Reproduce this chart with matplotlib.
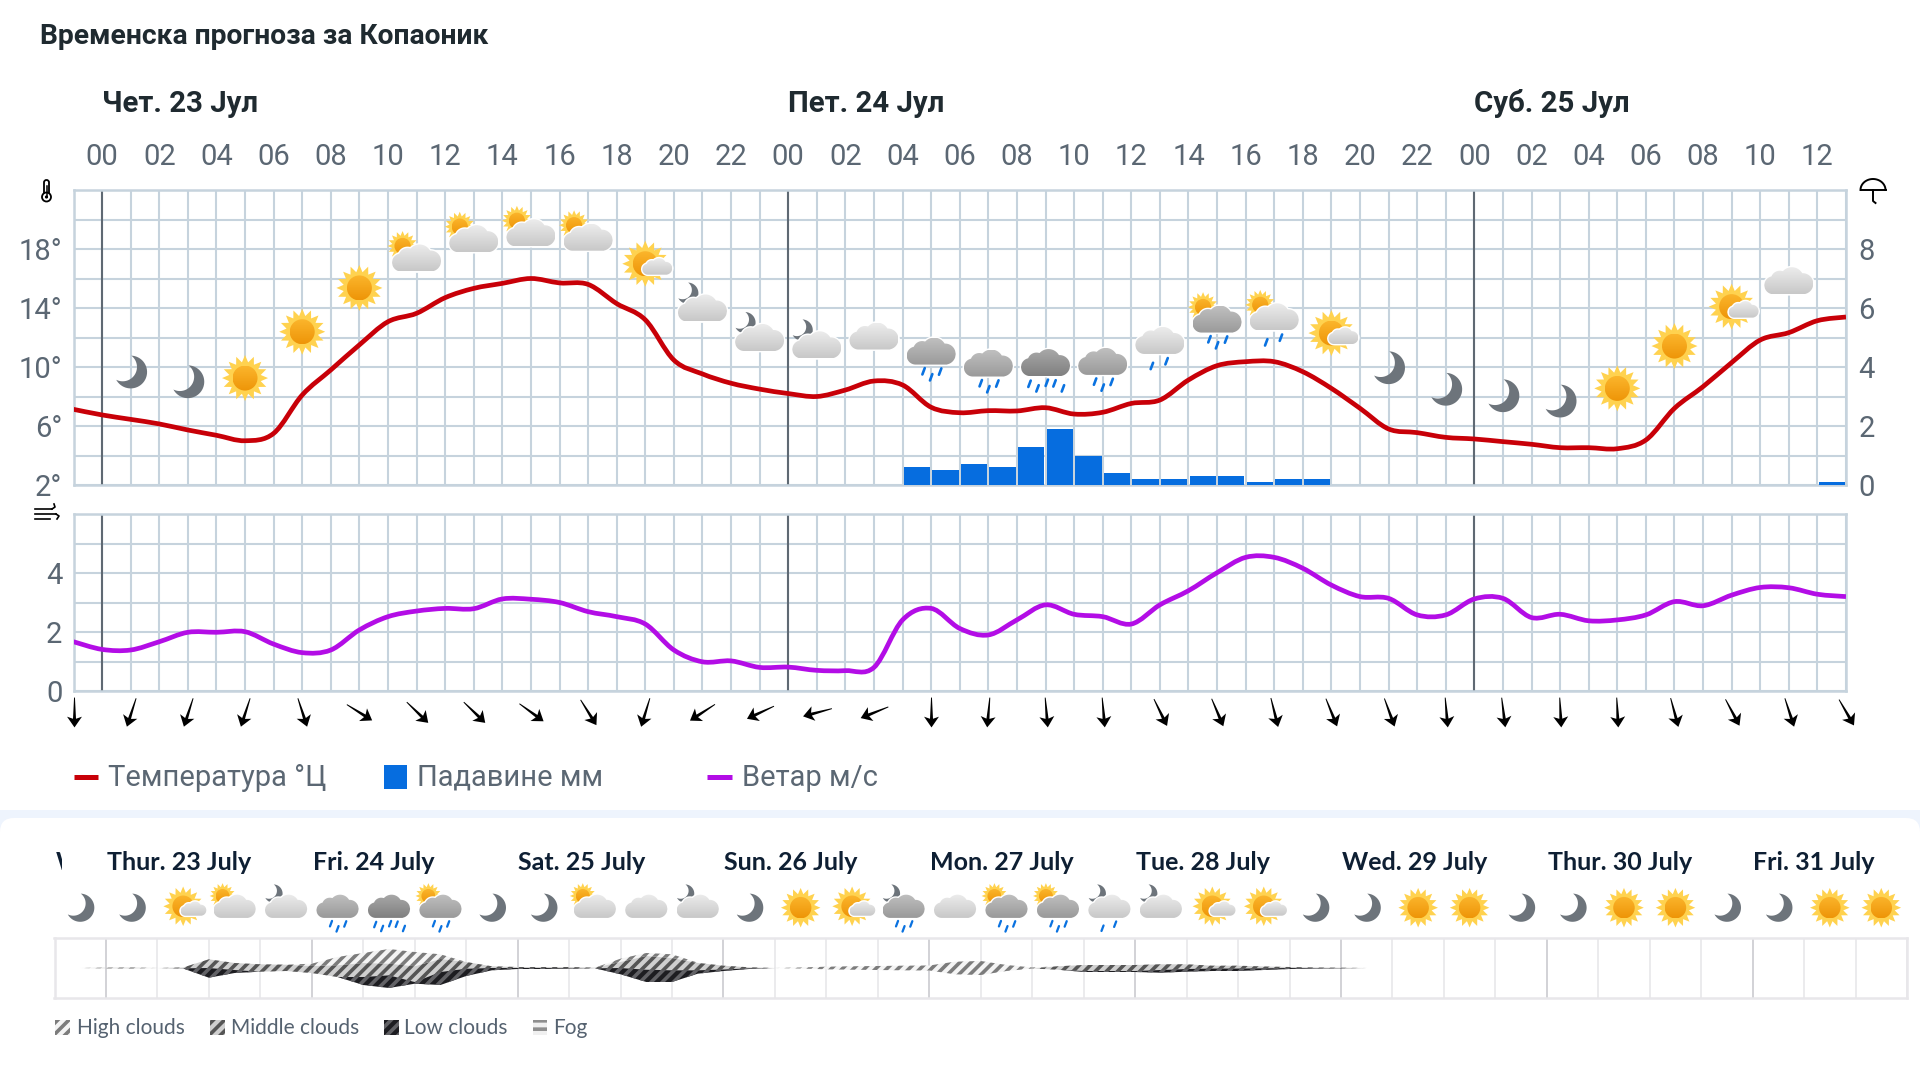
import numpy as np
import matplotlib
matplotlib.use('Agg')
import matplotlib.pyplot as plt
from matplotlib.markers import MarkerStyle
from matplotlib.patches import Circle, FancyBboxPatch, PathPatch, Polygon, Rectangle
from matplotlib.path import Path
from matplotlib.transforms import Affine2D, Bbox

# Hours counted from Thursday 00:00, one value per hour from -1 to 61
temperature = [7.13, 6.75, 6.45, 6.14, 5.73, 5.37, 5.0, 5.5, 8.1, 9.8, 11.5, 13.07, 13.64,
               14.7, 15.33, 15.67, 16.0, 15.7, 15.6, 14.3, 13.2, 10.47, 9.53, 8.9, 8.5, 8.2,
               8.0, 8.44, 9.05, 8.78, 7.27, 6.9, 7.04, 7.02, 7.24, 6.81, 6.93, 7.53, 7.76,
               9.12, 10.09, 10.36, 10.36, 9.68, 8.55, 7.2, 5.8, 5.55, 5.23, 5.12, 4.94, 4.76,
               4.53, 4.53, 4.46, 5.05, 7.2, 8.67, 10.3, 11.83, 12.33, 13.14, 13.39]
wind_speed = [1.67, 1.41, 1.39, 1.67, 1.99, 1.99, 2.01, 1.59, 1.30, 1.39, 2.07, 2.52, 2.71,
              2.80, 2.79, 3.12, 3.11, 3.0, 2.69, 2.52, 2.27, 1.39, 0.99, 1.02, 0.80, 0.81,
              0.70, 0.69, 0.80, 2.41, 2.80, 2.12, 1.90, 2.41, 2.92, 2.60, 2.52, 2.27, 2.92,
              3.40, 4.01, 4.53, 4.53, 4.16, 3.59, 3.20, 3.14, 2.58, 2.58, 3.12, 3.14, 2.49,
              2.60, 2.38, 2.41, 2.58, 3.03, 2.89, 3.25, 3.51, 3.50, 3.28, 3.20]
hours = list(range(-1, 62))

rain_hours = [28, 29, 30, 31, 32, 33, 34, 35, 36, 37, 38, 39, 40, 41, 42, 60]
rain_mm = [0.6, 0.5, 0.7, 0.6, 1.3, 1.9, 1.0, 0.4, 0.2, 0.2, 0.3, 0.3, 0.1, 0.2, 0.2, 0.1]

# Arrow tilt in degrees, 0 points straight down, one arrow every two hours from -1
wind_tilt = [0, -18, -18, -18, 18, 58, 46, 46, 54, 32, -17, -57, -65, -75, -68, 0,
             -5, 5, 5, 26, 23, 14, 22, 20, 5, 7, 3, 3, 15, 28, 18, 30]

day_labels = ['Чет. 23 Јул', 'Пет. 24 Јул', 'Суб. 25 Јул']
temp_ticks = [2, 6, 10, 14, 18]
rain_ticks = [0, 2, 4, 6, 8]
wind_ticks = [0, 2, 4]

# Weather symbol for every second hour from 1, with its level on the temperature scale
symbol_kinds = ['moon', 'moon', 'sun', 'sun', 'sun', 'sc', 'sc', 'sc', 'sc', 'Sc', 'mc', 'mc',
                'mc', 'cloud', 'rain3', 'rain3', 'rain5', 'rain3', 'lrain2', 'srain3',
                'srain2', 'Sc', 'moon', 'moon', 'moon', 'moon', 'sun', 'sun', 'Sc', 'cloud']
symbol_level = [9.66, 9.0, 9.25, 12.39, 15.36, 17.39, 18.7, 19.1, 18.8, 17.0, 14.0, 12.0,
                11.5, 12.1, 11.08, 10.27, 10.3, 10.38, 11.8, 13.25, 13.4, 12.3, 9.95, 8.49,
                8.05, 7.69, 8.55, 11.42, 14.09, 15.85]

week_labels = ['Thur. 23 July', 'Fri. 24 July', 'Sat. 25 July', 'Sun. 26 July', 'Mon. 27 July',
               'Tue. 28 July', 'Wed. 29 July', 'Thur. 30 July', 'Fri. 31 July']
week_kinds = ['moon', 'moon', 'Sc', 'sc', 'mc', 'rain3', 'rain5', 'srain3', 'moon', 'moon',
              'sc', 'cloud', 'mc', 'moon', 'sun', 'Sc', 'mrain3', 'cloud', 'srain3', 'srain3',
              'mrain2', 'mc', 'Sc', 'Sc', 'moon', 'moon', 'sun', 'sun', 'moon', 'moon',
              'sun', 'sun', 'moon', 'moon', 'sun', 'sun']

# Cloud layer edges around the centre line, every three hours from -6
cloud_hours = list(range(-6, 151, 3))
cloud_top = [0, 0, .3, .4, 0, .5, 8.7, 5, 3.7, 3.3, 4.3, 11, 15, 19, 16, 13.7, 6, 1.7, 1, 1, 1, .3,
             9.3, 15, 13.7, 5.3, 2.3, .7, 0, .5, 1.3, 1.7, 2, 2.3, 2.5, 6.3, 7, 3, .5, 1.7, 3, 3,
             3, 3.7, 3.7, 2.3, 2.3, 1.5, 1, .5, .3, 0, 0]
high_base = [0, 0, .3, .4, 0, .5, 8.7, 5, 3.7, 3.3, 2, 2.7, 5, 4.3, 1.7, 9, 6, 1.7, 1, 1, 1, .3,
             6, 12, 10, 5, 2.3, .7, 0, -.5, -1.3, -1.7, -2, -2.3, -2.5, -6.3, -7, -3, -.5, 1.7, 3, 3,
             3, 3.7, 3.7, 2.3, 2.3, 1.5, 1, .5, .3, 0, 0]
mid_base = [0, 0, -.3, -.4, 0, -.3, 0, -2, -3.7, -3, -5, -9, -9, -7.3, -14, -4, -.7, 0, 0, 0, -.5, -.3,
            0, -1.7, -2.3, -2.3, -1.5, -.3, 0, -.5, -1.3, -1.7, -2, -2.3, -2.5, -6.3, -7, -3, -.5, -1.7, -3, -3,
            -3, -2, -1, -.5, -.5, -.3, 0, 0, 0, 0, 0]
cloud_base = [0, 0, -.3, -.4, 0, -.5, -9.7, -5, -3.7, -3, -5, -9, -17, -20, -15.7, -17, -8, -2.3, -1, -1, -1, -.3,
              -6.3, -14, -14, -5.7, -3, -1, 0, -.5, -1.3, -1.7, -2, -2.3, -2.5, -6.3, -7, -3, -.5, -1.7, -4, -4,
              -4, -4.7, -3.7, -3, -3, -2, -1, -.5, -.3, 0, 0]

TEXT_GREY = '#5b6773'
GRID = '#c6d3dd'
plt.rcParams['font.family'] = ['Roboto', 'DejaVu Sans']
plt.rcParams['hatch.linewidth'] = 2.6

W, H = 1920, 1080
fig = plt.figure(figsize=(W / 100, H / 100), dpi=100, facecolor='white')


def axes_px(x0, y0, x1, y1):
    return fig.add_axes([x0 / W, 1 - y1 / H, (x1 - x0) / W, (y1 - y0) / H])


def spline_path(xs, ys):
    # Catmull-Rom through the readings, written as cubic Bezier segments
    pts = np.column_stack([xs, ys]).astype(float)
    verts = [pts[0]]
    codes = [Path.MOVETO]
    for i in range(len(pts) - 1):
        p0 = pts[max(i - 1, 0)]
        p3 = pts[min(i + 2, len(pts) - 1)]
        verts += [pts[i] + (pts[i + 1] - p0) / 6, pts[i + 1] - (p3 - pts[i]) / 6, pts[i + 1]]
        codes += [Path.CURVE4] * 3
    return Path(verts, codes)


def style_grid(ax):
    ax.set_xlim(-1, 61)
    ax.set_xticks(range(0, 62, 2))
    ax.set_xticks(range(-1, 62, 2), minor=True)
    ax.grid(True, which='both', color=GRID, lw=1.5)
    ax.tick_params(which='both', length=0)
    ax.set_axisbelow(True)
    for s in ax.spines.values():
        s.set_color(GRID)
        s.set_linewidth(1.8)
    for h in (0, 24, 48):
        ax.axvline(h, color='#5f6973', lw=1.5, zorder=1.5)


# Temperature and rain panel
ax = axes_px(73.5, 190, 1846, 485)
style_grid(ax)
ax.set_ylim(2, 22)
ax.set_yticks(range(2, 23, 2))
ax.set_yticklabels([f'{v}°' if v in temp_ticks else '' for v in range(2, 23, 2)],
                   fontsize=21, color=TEXT_GREY)
ax.tick_params(axis='y', pad=8)
ax.xaxis.tick_top()
ax.set_xticklabels([f'{h % 24:02d}' for h in range(0, 62, 2)], fontsize=21, color=TEXT_GREY)
ax.tick_params(axis='x', which='major', pad=14)
ax.add_patch(PathPatch(spline_path(hours, temperature), fill=False, ec='#c80008', lw=3.4, zorder=4))
for h, label in zip((0, 24, 48), day_labels):
    ax.annotate(label, xy=(h, H - 103.5), xycoords=('data', 'figure pixels'), fontsize=21.2,
                fontweight='bold', color='#1f2a30', ha='left', va='center', annotation_clip=False)

ax_rain = ax.twinx()
ax_rain.set_ylim(0, 10)
ax_rain.set_yticks(rain_ticks)
ax_rain.set_yticklabels([str(v) for v in rain_ticks], fontsize=21, color=TEXT_GREY)
ax_rain.tick_params(axis='y', length=0, pad=9)
for s in ax_rain.spines.values():
    s.set_visible(False)
ax_rain.bar([h + 0.04 for h in rain_hours], rain_mm, width=0.92, align='edge', color='#066ddf', zorder=3)

# Wind panel
ax_wind = axes_px(73.5, 514, 1846, 691)
style_grid(ax_wind)
ax_wind.set_ylim(0, 6)
ax_wind.set_yticks(range(0, 7))
ax_wind.set_yticklabels([str(v) if v in wind_ticks else '' for v in range(0, 7)],
                        fontsize=21, color=TEXT_GREY)
ax_wind.tick_params(axis='y', pad=8)
ax_wind.tick_params(axis='x', which='both', labelbottom=False)
ax_wind.add_patch(PathPatch(spline_path(hours, wind_speed), fill=False, ec='#b30de6', lw=3.4, zorder=4))

# Direction arrows under the wind panel, pointing down before rotation
arrow = Path([(-.03, 1), (.03, 1), (.1, -.42), (.5, -.28), (0, -1), (-.5, -.28), (-.1, -.42), (-.03, 1)], closed=True)
for i, tilt in enumerate(wind_tilt):
    line, = ax_wind.plot(-1 + 2 * i, -0.71, marker=MarkerStyle(arrow, transform=Affine2D().rotate_deg(tilt)),
                         ms=21.5, color='black', mew=0, zorder=5)
    line.set_clip_box(Bbox([[0, 0], [1855, H]]))

# Cloud layers of the nine day strip
ax_cloud = axes_px(54.5, 937.7, 1907, 998.3)
ax_cloud.set_xlim(-6, 210)
ax_cloud.set_ylim(-30.3, 30.3)
ax_cloud.set_xticks(range(0, 211, 6))
ax_cloud.set_yticks([])
ax_cloud.tick_params(length=0, labelbottom=False)
ax_cloud.grid(True, axis='x', color='#e8e7ea', lw=1.2)
ax_cloud.set_axisbelow(True)
for s in ax_cloud.spines.values():
    s.set_color('#e8e7ea')
    s.set_linewidth(1.8)
for h in range(0, 211, 24):
    ax_cloud.axvline(h, color='#cfcfd3', lw=1.2, zorder=1.5)
layer_style = {'high': ('#f4f4f4', '#7c7c7c'), 'mid': ('#cfcfcf', '#555555'), 'low': ('#1d1d21', '#626266')}
ax_cloud.fill_between(cloud_hours, high_base, cloud_top, facecolor=layer_style['high'][0],
                      edgecolor=layer_style['high'][1], hatch='///', lw=0, zorder=3)
ax_cloud.fill_between(cloud_hours, mid_base, high_base, facecolor=layer_style['mid'][0],
                      edgecolor=layer_style['mid'][1], hatch='///', lw=0, zorder=3)
ax_cloud.fill_between(cloud_hours, cloud_base, mid_base, facecolor=layer_style['low'][0],
                      edgecolor=layer_style['low'][1], hatch='///', lw=0, zorder=3)
for k, label in enumerate(week_labels):
    ax_cloud.annotate(label, xy=(24 * k + 0.1, H - 862.5), xycoords=('data', 'figure pixels'), fontsize=18,
                      family=['Lato', 'DejaVu Sans'], fontweight='bold', color='#0e1f33', ha='left',
                      va='center', annotation_clip=False)

# Overlay in pixel coordinates for the page parts and the weather symbols
ov = fig.add_axes([0, 0, 1, 1], zorder=5)
ov.set_xlim(0, W)
ov.set_ylim(H, 0)
ov.axis('off')
ov.patch.set_alpha(0)
ov.set_autoscale_on(False)
page = fig.add_axes([0, 0, 1, 1], zorder=-1)
page.set_xlim(0, W)
page.set_ylim(H, 0)
page.axis('off')
page.add_patch(Rectangle((0, 810), W, 270, fc='#eef4fd', ec='none'))
page.add_patch(FancyBboxPatch((0, 818), W, 300, boxstyle='round,pad=0,rounding_size=14', fc='white', ec='none'))

z = [10]


def next_z():
    z[0] += 1
    return z[0]


def gradient(patch, top, bottom):
    # Vertical colour ramp clipped to a patch already on the overlay
    v = patch.get_path().transformed(patch.get_patch_transform()).vertices
    c0, c1 = np.array(matplotlib.colors.to_rgb(top)), np.array(matplotlib.colors.to_rgb(bottom))
    t = np.linspace(0, 1, 32)[:, None, None]
    im = ov.imshow(c0 + (c1 - c0) * t, extent=(v[:, 0].min(), v[:, 0].max(), v[:, 1].max(), v[:, 1].min()),
                   aspect='auto', interpolation='bilinear', zorder=next_z())
    im.set_clip_path(patch)


def draw_sun(cx, cy, s=1.0):
    ang = np.linspace(0, 2 * np.pi, 32, endpoint=False) - np.pi / 2
    rad = np.where(np.arange(32) % 2 == 0, 23 * s, 16 * s)
    ov.add_patch(Polygon(np.column_stack([cx + rad * np.cos(ang), cy + rad * np.sin(ang)]),
                         fc='#ffd24f', ec='none', zorder=next_z()))
    disc = Circle((cx, cy), 12.5 * s, fc='none', ec='none', zorder=next_z())
    ov.add_patch(disc)
    gradient(disc, '#fbb52c', '#ee9508')


def draw_moon(cx, cy, s=1.0):
    # Crescent: far side of the outer circle, closed by the part of the cut circle inside it
    R, r = 16.4, 14.3
    c = np.array([-8.0, -5.0])
    d = np.hypot(*c)
    a = (d ** 2 + R ** 2 - r ** 2) / (2 * d)
    half = np.arccos(a / R)
    base = np.arctan2(c[1], c[0])
    outer = np.linspace(base + half, base + 2 * np.pi - half, 40)
    p = R * np.array([np.cos(base + half), np.sin(base + half)])
    q = R * np.array([np.cos(base - half), np.sin(base - half)])
    mid = base + np.pi
    wrap = lambda ang: (ang - mid + np.pi) % (2 * np.pi) - np.pi + mid
    a0 = wrap(np.arctan2(*(q - c)[::-1]))
    a1 = wrap(np.arctan2(*(p - c)[::-1]))
    inner = np.linspace(a0, a1, 30)
    xs = np.r_[R * np.cos(outer), c[0] + r * np.cos(inner)]
    ys = np.r_[R * np.sin(outer), c[1] + r * np.sin(inner)]
    ov.add_patch(Polygon(np.column_stack([cx + xs * s, cy + ys * s]), fc='#6d747b', ec='none', zorder=next_z()))


def cloud_outline():
    lobes = [(-15.5, 4.5, 9), (-9, -1, 9), (3, -1.5, 12), (14, 3, 10.5)]
    x = np.linspace(-24.49, 24.49, 90)
    top = np.full(x.shape, 99.0)
    bot = np.full(x.shape, -99.0)
    for lx, ly, lr in lobes:
        inside = np.abs(x - lx) < lr
        dy = np.sqrt(lr ** 2 - (x[inside] - lx) ** 2)
        top[inside] = np.minimum(top[inside], ly - dy)
        bot[inside] = np.maximum(bot[inside], ly + dy)
    bot[np.abs(x) < 16] = 13.5
    bot = np.minimum(bot, 13.5)
    return np.column_stack([np.r_[x, x[::-1]], np.r_[top, bot[::-1]]])


CLOUD = cloud_outline()
CLOUD_TONES = {'light': ('#ececec', '#c8c8c8'), 'mid': ('#bfbfbf', '#9a9a9a'), 'dark': ('#a8a8a8', '#808080')}


def draw_cloud(cx, cy, s=1.0, tone='light'):
    pts = CLOUD * s + (cx, cy)
    ov.add_patch(Polygon(pts, fc='white', ec='white', lw=2.0, zorder=next_z()))
    body = Polygon(pts, fc='none', ec='none', zorder=next_z())
    ov.add_patch(body)
    gradient(body, *CLOUD_TONES[tone])


DROPS = {2: [(-8, 12), (6.7, 7.3)],
         3: [(-7.6, 6.7), (0, 12.7), (9, 7)],
         5: [(-16, 7.7), (-8, 12.3), (1.3, 6.7), (9, 7.3), (17.4, 12.3)]}


def draw_drops(cx, cy, n, s=1.0):
    base = cy + 13.5 * s
    for dx, dy in DROPS[n]:
        x, y = cx + dx * s, base + dy * s
        ov.plot([x - 1.2 * s, x + 1.2 * s], [y + 3.2 * s, y - 3.2 * s], color='#0a72e0', lw=1.9 * s,
                solid_capstyle='round', zorder=next_z())


def draw_symbol(kind, cx, cy, s=1.0):
    if kind == 'sun':
        draw_sun(cx, cy, s)
    elif kind == 'moon':
        draw_moon(cx, cy, s)
    elif kind == 'Sc':
        draw_sun(cx, cy, s)
        draw_cloud(cx + 12 * s, cy + 2.7 * s, 0.61 * s)
    elif kind == 'cloud':
        draw_cloud(cx, cy, s)
    elif kind == 'sc':
        draw_sun(cx - 14 * s, cy - 12 * s, 0.65 * s)
        draw_cloud(cx, cy, s)
    elif kind == 'mc':
        draw_moon(cx - 14.7 * s, cy - 14.8 * s, 0.65 * s)
        draw_cloud(cx, cy, s)
    elif kind in ('rain3', 'rain5'):
        draw_cloud(cx, cy, s, 'dark' if kind == 'rain5' else 'mid')
        draw_drops(cx, cy, int(kind[-1]), s)
    elif kind == 'lrain2':
        draw_cloud(cx, cy, s, 'light')
        draw_drops(cx, cy, 2, s)
    elif kind[:5] == 'srain':
        draw_sun(cx - 14 * s, cy - 12 * s, 0.65 * s)
        draw_cloud(cx, cy, s, 'mid' if kind[-1] == '3' else 'light')
        draw_drops(cx, cy, int(kind[-1]), s)
    elif kind[:5] == 'mrain':
        draw_moon(cx - 14.7 * s, cy - 14.8 * s, 0.65 * s)
        draw_cloud(cx, cy, s, 'mid' if kind[-1] == '3' else 'light')
        draw_drops(cx, cy, int(kind[-1]), s)


# Positions along the hour and temperature scales, taken from the panel's own transform
for i, (kind, level) in enumerate(zip(symbol_kinds, symbol_level)):
    px, py = ax.transData.transform((1 + 2 * i, level))
    draw_symbol(kind, px, H - py)
for i, kind in enumerate(week_kinds):
    px, _ = ax_cloud.transData.transform((-3 + 6 * i, 0))
    cy = 906.3 if 'c' in kind or 'rain' in kind else 907.7
    draw_symbol(kind, px, cy, 0.86)

# Small glyphs at the corners of the panels
ov.add_patch(FancyBboxPatch((44, 180), 5, 15, boxstyle='round,pad=0,rounding_size=2.5', fc='white', ec='black',
                            lw=1.3, zorder=next_z()))
ov.add_patch(Circle((46.5, 197), 4.5, fc='white', ec='black', lw=1.3, zorder=next_z()))
ov.add_patch(Circle((46.5, 197), 1.6, fc='black', ec='none', zorder=next_z()))
ov.plot([46.5, 46.5], [186, 197], color='black', lw=1.1, zorder=next_z())
t = np.linspace(np.pi, 2 * np.pi, 40)
ov.plot(1873 + 12.5 * np.cos(t), 190 + 11 * np.sin(t), color='black', lw=1.4, zorder=next_z())
ov.plot([1860.5, 1885.5], [190, 190], color='black', lw=1.4, zorder=next_z())
ov.plot([1873, 1873, 1875.5], [190, 201, 203], color='black', lw=1.4, zorder=next_z())
for y0, x1 in ((509, 54), (514, 58), (519, 52)):
    ov.plot([35, x1 - 2], [y0, y0], color='black', lw=1.2, zorder=next_z())
ov.plot([52, 55, 54], [509, 507, 504], color='black', lw=1.2, zorder=next_z())
ov.plot([56, 59, 57], [514, 516, 519], color='black', lw=1.2, zorder=next_z())

ov.text(39.5, 36.5, 'Временска прогноза за Копаоник', fontsize=20.35, fontweight='bold', color='#1f2a30',
        ha='left', va='center')

# Legend of the upper panels
ov.plot([73.5, 98], [776.7, 776.7], color='#c80008', lw=3.6, solid_capstyle='butt')
ov.text(108, 778, 'Температура °Ц', fontsize=21, color=TEXT_GREY, ha='left', va='center')
ov.add_patch(Rectangle((384, 765), 23, 24, fc='#066ddf', ec='none'))
ov.text(417, 778, 'Падавине мм', fontsize=21, color=TEXT_GREY, ha='left', va='center')
ov.plot([707, 732], [776.7, 776.7], color='#b30de6', lw=3.6, solid_capstyle='butt')
ov.text(742, 778, 'Ветар м/с', fontsize=21, color=TEXT_GREY, ha='left', va='center')

# Legend of the cloud strip
for x0, key, label, xt in ((55.4, 'high', 'High clouds', 76.8), (210, 'mid', 'Middle clouds', 231),
                           (384, 'low', 'Low clouds', 404.5)):
    ov.add_patch(Rectangle((x0, 1020), 14.5, 14.5, fc=layer_style[key][0], ec=layer_style[key][1],
                           hatch='///', lw=0))
    ov.text(xt, 1028, label, fontsize=15, family=['Lato', 'DejaVu Sans'], color='#556270', ha='left', va='center')
ov.add_patch(Rectangle((532.6, 1020), 14.5, 14.5, fc='#f0f0f0', ec='#8e8e8e', hatch='--', lw=0))
ov.text(553.6, 1028, 'Fog', fontsize=15, family=['Lato', 'DejaVu Sans'], color='#556270', ha='left', va='center')

# First letter of the label that has scrolled out on the left
cut = ov.text(56, 862.5, 'W', fontsize=18, family=['Lato', 'DejaVu Sans'], fontweight='bold', color='#0e1f33',
              ha='left', va='center', clip_on=True)
cut.set_clip_path(Rectangle((50, 845), 12, 30, transform=ov.transData))

fig.savefig('out.png', dpi=100, facecolor='white')
